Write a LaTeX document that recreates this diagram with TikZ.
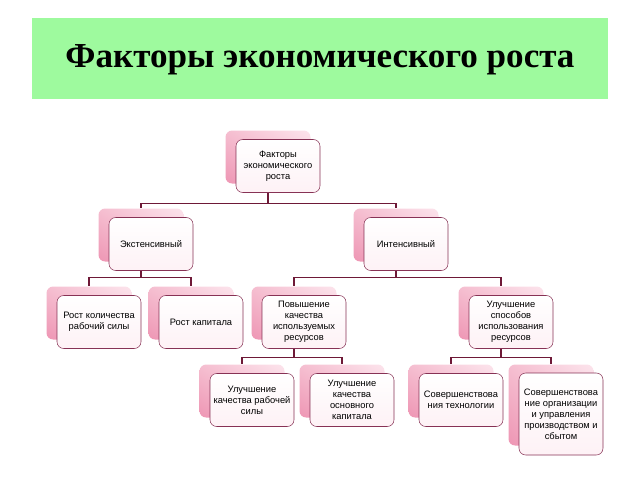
\documentclass[tikz,border=0pt]{standalone}
\usepackage{fontspec}
\usetikzlibrary{backgrounds,shadings}
\newfontfamily\cardfont{Liberation Sans}
\newfontfamily\headfont{Liberation Serif}
\definecolor{vert}{RGB}{158,250,158}
\definecolor{bordeaux}{RGB}{135,50,85}
\definecolor{lienc}{RGB}{110,25,55}
\definecolor{rosefonce}{RGB}{238,150,180}
\definecolor{rosemoyen}{RGB}{245,190,208}
\definecolor{roseclair}{RGB}{252,228,236}

\begin{document}
\begin{tikzpicture}[x=0.75pt,y=-0.75pt,
  fond/.style={rounded corners=5pt,lower left=rosefonce,lower right=rosemoyen,upper left=rosemoyen,upper right=roseclair,minimum width=63.75pt,minimum height=39.75pt,inner sep=0pt},
  carte/.style={rounded corners=5pt,draw=bordeaux,thin,top color=white,bottom color=roseclair!50,minimum width=63pt,minimum height=39.75pt,align=center,inner sep=1pt,font=\cardfont\fontsize{7}{8.2}\selectfont},
  branche/.style={draw=lienc,line width=1.1pt}]%
\useasboundingbox (0,0) rectangle (640,480);%%
%%TITRE
\fill[vert] (32,18) rectangle (608,99);%%
\node[font=\headfont\bfseries\fontsize{26.3}{30}\selectfont] (titre) at (320,60) {Факторы экономического роста};%%
%%FONDS
\node[fond] (root-bg) at (268,157) {};%%
\node[fond] (ext-bg) at (141,235) {};%%
\node[fond] (int-bg) at (396,235) {};%%
\node[fond] (rk-bg) at (89,313) {};%%
\node[fond] (rc-bg) at (191,313) {};%%
\node[fond] (pk-bg) at (294,313) {};%%
\node[fond] (us-bg) at (501,313) {};%%
\node[fond] (ur-bg) at (242,391) {};%%
\node[fond] (uo-bg) at (342,391) {};%%
\node[fond] (st-bg) at (451,391) {};%%
\node[fond,minimum height=60.75pt] (so-bg) at (551,405) {};%%
%%CARTES
\node[carte] (root) at (278,166) {Факторы\\экономического\\роста};%%
\node[carte] (ext) at (151,244) {Экстенсивный};%%
\node[carte] (int) at (406,244) {Интенсивный};%%
\node[carte] (rk) at (99,322) {Рост количества\\рабочий силы};%%
\node[carte] (rc) at (201,322) {Рост капитала};%%
\node[carte] (pk) at (304,322) {Повышение\\качества\\используемых\\ресурсов};%%
\node[carte] (us) at (511,322) {Улучшение\\способов\\использования\\ресурсов};%%
\node[carte] (ur) at (252,400) {Улучшение\\качества рабочей\\силы};%%
\node[carte] (uo) at (352,400) {Улучшение\\качества\\основного\\капитала};%%
\node[carte] (st) at (461,400) {Совершенствова\\ния технологии};%%
\node[carte,minimum height=61.5pt] (so) at (561,414) {Совершенствова\\ние организации\\и управления\\производством и\\сбытом};%%
%%LIENS
\begin{scope}[on background layer]
\draw[branche] (root-bg.south) -- ++(0,19.5) -| (ext-bg.north);%%
\draw[branche] (root-bg.south) -- ++(0,19.5) -| (int-bg.north);%%
\draw[branche] (ext-bg.south) -- ++(0,15.5) -| (rk-bg.north);%%
\draw[branche] (ext-bg.south) -- ++(0,15.5) -| (rc-bg.north);%%
\draw[branche] (int-bg.south) -- ++(0,15.5) -| (pk-bg.north);%%
\draw[branche] (int-bg.south) -- ++(0,15.5) -| (us-bg.north);%%
\draw[branche] (pk-bg.south) -- ++(0,17.5) -| (ur-bg.north);%%
\draw[branche] (pk-bg.south) -- ++(0,17.5) -| (uo-bg.north);%%
\draw[branche] (us-bg.south) -- ++(0,17.5) -| (st-bg.north);%%
\draw[branche] (us-bg.south) -- ++(0,17.5) -| (so-bg.north);%%
\end{scope}
\end{tikzpicture}
\end{document}
